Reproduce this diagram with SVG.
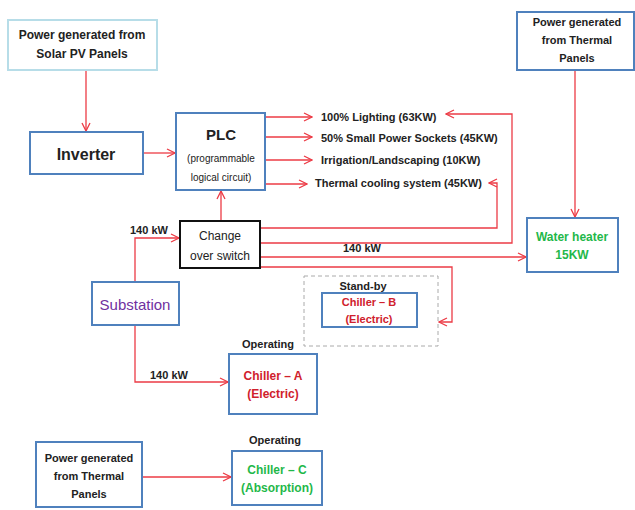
<svg xmlns="http://www.w3.org/2000/svg" width="635" height="510" viewBox="0 0 635 510">
<style>
.box{fill:#fff;stroke:#4f81bd;stroke-width:2}
.t{font-family:"Liberation Sans",Arial,sans-serif;font-weight:bold;fill:#222;text-anchor:middle}
.tl{font-family:"Liberation Sans",Arial,sans-serif;font-weight:bold;fill:#222}
.n{font-family:"Liberation Sans",Arial,sans-serif;fill:#222;text-anchor:middle}
.c{fill:none;stroke:#ec3b45;stroke-width:1.3;marker-end:url(#ah)}
.red{fill:#d0212c}
.grn{fill:#1fb84a}
</style>
<defs>
<marker id="ah" markerUnits="userSpaceOnUse" markerWidth="10" markerHeight="10" refX="9" refY="5" orient="auto">
<path d="M1,1 L9,5 L1,9" fill="none" stroke="#ec3b45" stroke-width="1.3"/>
</marker>
</defs>
<rect width="635" height="510" fill="#fff"/>

<g id="connectors">
<path class="c" d="M86,70 V131"/>
<path class="c" d="M143,153 H175"/>
<path class="c" d="M265,117 H312"/>
<path class="c" d="M265,137 H312"/>
<path class="c" d="M265,160 H312"/>
<path class="c" d="M262,184 H307"/>
<path class="c" d="M221,221 V191"/>
<path class="c" d="M135,282 V238 H179"/>
<path class="c" d="M135,325 V382 H228"/>
<path class="c" d="M260,228 H497 V183 H489"/>
<path class="c" d="M260,243 H512 V114 H446"/>
<path class="c" d="M260,257 H526"/>
<path class="c" d="M260,267 H452 V322 H439"/>
<path class="c" d="M575,70 V217"/>
<path class="c" d="M142,477 H231"/>
</g>

<g id="solar">
<rect x="8" y="20" width="149" height="50" fill="#fff" stroke="#b7dde8" stroke-width="2"/>
<text class="t" x="82" y="39" font-size="12">Power generated from</text>
<text class="t" x="82" y="58" font-size="12">Solar PV Panels</text>
</g>

<g id="inverter">
<rect class="box" x="30" y="132" width="113" height="42"/>
<text class="t" x="86" y="160" font-size="16">Inverter</text>
</g>

<g id="plc">
<rect class="box" x="176" y="113" width="89" height="77"/>
<text class="t" x="221" y="140" font-size="15">PLC</text>
<text class="n" x="221" y="162" font-size="10">(programmable</text>
<text class="n" x="221" y="181" font-size="10">logical circuit)</text>
</g>

<g id="loads">
<text class="tl" x="321" y="121" font-size="11">100% Lighting (63KW)</text>
<text class="tl" x="321" y="142" font-size="11">50% Small Power Sockets (45KW)</text>
<text class="tl" x="321" y="164" font-size="11">Irrigation/Landscaping (10KW)</text>
<text class="tl" x="315" y="187" font-size="11">Thermal cooling system (45KW)</text>
</g>

<g id="thermal-top">
<rect class="box" x="517" y="12" width="117" height="58"/>
<text class="t" x="577" y="26" font-size="11">Power generated</text>
<text class="t" x="577" y="44" font-size="11">from Thermal</text>
<text class="t" x="577" y="62" font-size="11">Panels</text>
</g>

<g id="switch">
<rect x="180" y="221" width="80" height="47" fill="#fff" stroke="#111" stroke-width="2"/>
<text class="n" x="220" y="240" font-size="12">Change</text>
<text class="n" x="220" y="260" font-size="12">over switch</text>
</g>

<g id="labels">
<text class="tl" x="130" y="234" font-size="11">140 kW</text>
<text class="tl" x="343" y="252" font-size="11">140 kW</text>
<text class="tl" x="150" y="379" font-size="11">140 kW</text>
</g>

<g id="water-heater">
<rect class="box" x="527" y="218" width="91" height="54"/>
<text class="t grn" x="572" y="241" font-size="12">Water heater</text>
<text class="t grn" x="572" y="259" font-size="12">15KW</text>
</g>

<g id="substation">
<rect class="box" x="92" y="282" width="87" height="43"/>
<text x="135" y="310" font-size="15" font-family="Liberation Sans,Arial,sans-serif" text-anchor="middle" fill="#7030a0">Substation</text>
</g>

<g id="chiller-b">
<rect x="304" y="276" width="134" height="70" fill="none" stroke="#aaa" stroke-width="1" stroke-dasharray="4,3"/>
<text class="t" x="363" y="290" font-size="11">Stand-by</text>
<rect class="box" x="322" y="293" width="95" height="34"/>
<text class="t red" x="369" y="306" font-size="11">Chiller – B</text>
<text class="t red" x="369" y="323" font-size="11">(Electric)</text>
</g>

<g id="chiller-a">
<text class="t" x="268" y="348" font-size="11">Operating</text>
<rect class="box" x="229" y="354" width="88" height="60"/>
<text class="t red" x="273" y="380" font-size="12">Chiller – A</text>
<text class="t red" x="273" y="398" font-size="12">(Electric)</text>
</g>

<g id="thermal-bottom">
<rect class="box" x="36" y="442" width="106" height="65"/>
<text class="t" x="89" y="462" font-size="11">Power generated</text>
<text class="t" x="89" y="480" font-size="11">from Thermal</text>
<text class="t" x="89" y="498" font-size="11">Panels</text>
</g>

<g id="chiller-c">
<text class="t" x="275" y="444" font-size="11">Operating</text>
<rect class="box" x="232" y="451" width="90" height="54"/>
<text class="t grn" x="277" y="474" font-size="12">Chiller – C</text>
<text class="t grn" x="277" y="492" font-size="12">(Absorption)</text>
</g>
</svg>
